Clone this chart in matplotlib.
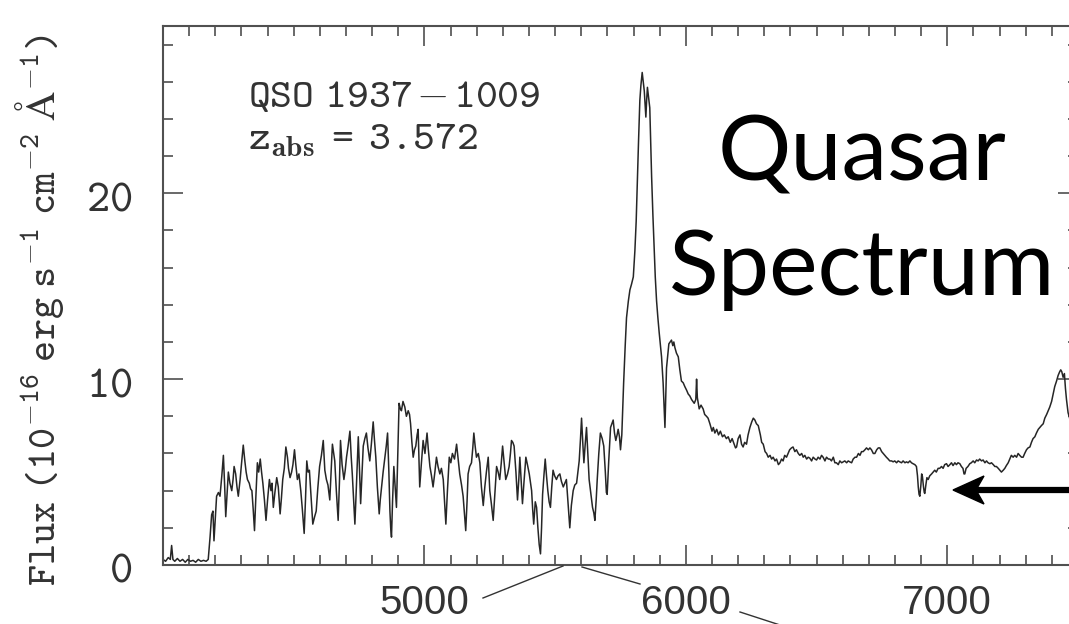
import matplotlib
matplotlib.use("Agg")
import matplotlib.pyplot as plt
from matplotlib.ticker import MultipleLocator
from matplotlib.lines import Line2D
from matplotlib.patches import Polygon

# spectrum: wavelength (Angstrom) and flux (1e-16 erg/s/cm2/A)
wave = [4000, 4010, 4020, 4028, 4033, 4038, 4045, 4055, 4065, 4075, 4085, 4095, 4105, 4115, 4125,
        4135, 4145, 4155, 4165, 4173, 4180, 4186, 4191, 4195, 4200, 4205, 4212, 4218, 4225, 4231,
        4236, 4240, 4245, 4250, 4256, 4263, 4268, 4272, 4278, 4283, 4288, 4295, 4300, 4307, 4313,
        4318, 4323, 4330, 4335, 4340, 4345, 4350, 4355, 4361, 4366, 4372, 4377, 4382, 4388, 4394,
        4400, 4407, 4413, 4417, 4422, 4428, 4435, 4441, 4448, 4453, 4458, 4464, 4470, 4476, 4480,
        4486, 4492, 4497, 4503, 4508, 4514, 4520, 4527, 4533, 4540, 4545, 4550, 4555, 4560, 4566,
        4573, 4580, 4586, 4592, 4599, 4606, 4613, 4619, 4625, 4631, 4638, 4643, 4648, 4653, 4657,
        4663, 4670, 4675, 4679, 4685, 4692, 4697, 4702, 4708, 4715, 4720, 4724, 4729, 4734, 4740,
        4747, 4752, 4756, 4761, 4766, 4772, 4778, 4784, 4791, 4797, 4804, 4809, 4814, 4820, 4827,
        4831, 4836, 4842, 4849, 4854, 4859, 4864, 4868, 4871, 4874, 4878, 4883, 4888, 4893, 4898,
        4903, 4908, 4912, 4918, 4925, 4931, 4938, 4943, 4947, 4952, 4957, 4962, 4967, 4972, 4976,
        4979, 4982, 4988, 4995, 5002, 5010, 5015, 5021, 5027, 5033, 5040, 5046, 5052, 5059, 5065,
        5072, 5077, 5082, 5088, 5095, 5101, 5107, 5115, 5123, 5129, 5135, 5142, 5148, 5153, 5158,
        5163, 5167, 5173, 5180, 5185, 5189, 5194, 5199, 5206, 5212, 5218, 5225, 5231, 5237, 5244,
        5250, 5256, 5263, 5270, 5276, 5282, 5288, 5294, 5299, 5305, 5311, 5318, 5324, 5329, 5333,
        5338, 5343, 5350, 5356, 5361, 5365, 5370, 5375, 5381, 5388, 5394, 5401, 5405, 5410, 5414,
        5418, 5424, 5429, 5434, 5439, 5444, 5448, 5452, 5457, 5462, 5467, 5472, 5477, 5482, 5487,
        5492, 5498, 5505, 5511, 5518, 5524, 5531, 5537, 5543, 5549, 5556, 5562, 5569, 5575, 5582,
        5587, 5592, 5597, 5601, 5606, 5610, 5615, 5620, 5625, 5630, 5636, 5643, 5648, 5652, 5657,
        5661, 5667, 5673, 5680, 5686, 5692, 5696, 5699, 5705, 5712, 5717, 5722, 5727, 5732, 5737,
        5741, 5746, 5750, 5755, 5758, 5762, 5768, 5773, 5780, 5786, 5792, 5799, 5805, 5810, 5814,
        5819, 5824, 5828, 5833, 5837, 5841, 5844, 5847, 5850, 5853, 5857, 5862, 5865, 5869, 5874,
        5879, 5883, 5888, 5893, 5898, 5903, 5907, 5913, 5917, 5920, 5923, 5926, 5931, 5935, 5940,
        5945, 5950, 5954, 5958, 5964, 5971, 5977, 5983, 5990, 5996, 6003, 6009, 6015, 6022, 6027,
        6032, 6038, 6041, 6044, 6051, 6058, 6066, 6072, 6079, 6085, 6092, 6100, 6105, 6111, 6118,
        6125, 6132, 6140, 6147, 6155, 6162, 6170, 6177, 6185, 6190, 6194, 6200, 6207, 6213, 6219,
        6225, 6232, 6238, 6245, 6252, 6258, 6264, 6270, 6277, 6285, 6290, 6296, 6303, 6309, 6315,
        6322, 6328, 6334, 6341, 6347, 6354, 6360, 6366, 6372, 6378, 6385, 6391, 6397, 6404, 6410,
        6417, 6423, 6430, 6436, 6443, 6449, 6455, 6462, 6468, 6474, 6481, 6487, 6494, 6500, 6506,
        6513, 6519, 6525, 6532, 6538, 6545, 6551, 6557, 6564, 6570, 6576, 6583, 6589, 6596, 6602,
        6608, 6615, 6621, 6627, 6634, 6640, 6647, 6653, 6660, 6666, 6672, 6678, 6685, 6691, 6698,
        6704, 6710, 6717, 6723, 6730, 6736, 6742, 6749, 6755, 6761, 6767, 6774, 6780, 6787, 6793,
        6799, 6806, 6812, 6818, 6825, 6831, 6838, 6844, 6850, 6857, 6863, 6869, 6876, 6882, 6886,
        6889, 6892, 6895, 6899, 6902, 6905, 6909, 6912, 6914, 6918, 6922, 6927, 6933, 6940, 6946,
        6952, 6958, 6965, 6971, 6978, 6984, 6990, 6997, 7003, 7010, 7016, 7022, 7029, 7035, 7041,
        7048, 7054, 7060, 7064, 7067, 7072, 7079, 7086, 7092, 7099, 7105, 7112, 7118, 7124, 7131,
        7137, 7144, 7150, 7156, 7163, 7169, 7176, 7182, 7188, 7195, 7201, 7207, 7214, 7220, 7226,
        7233, 7239, 7245, 7252, 7258, 7265, 7271, 7277, 7284, 7290, 7296, 7303, 7309, 7316, 7322,
        7328, 7335, 7341, 7348, 7354, 7360, 7367, 7373, 7380, 7386, 7392, 7399, 7405, 7411, 7418,
        7424, 7430, 7434, 7438, 7443, 7448, 7452, 7456, 7462, 7470, 7480, 7495]

flux = [0.3, 0.2, 0.4, 0.3, 1.05, 0.3, 0.2, 0.35, 0.2, 0.3, 0.15, 0.3, 0.2, 0.25, 0.15,
        0.3, 0.2, 0.25, 0.2, 0.3, 1.5, 2.7, 2.9, 1.3, 2.5, 3.7, 3.9, 3.7, 4.8, 5.9,
        4.2, 2.6, 3.8, 5.0, 4.4, 4.0, 4.6, 5.3, 4.9, 4.2, 3.7, 4.6, 5.4, 6.45, 5.6,
        5.0, 4.6, 4.4, 4.1, 4.0, 3.0, 1.85, 3.6, 5.5, 5.0, 5.7, 5.0, 4.4, 3.5, 2.4,
        3.5, 4.6, 4.0, 4.4, 3.1, 3.9, 4.7, 4.2, 2.75, 3.6, 4.6, 5.2, 6.35, 5.8, 5.2,
        4.7, 5.0, 5.4, 6.2, 5.4, 4.6, 4.9, 4.0, 3.0, 1.7, 3.5, 5.6, 5.0, 5.1, 3.8,
        2.2, 2.6, 2.9, 4.1, 5.3, 5.9, 6.7, 5.1, 4.6, 4.3, 3.5, 5.0, 6.5, 6.0, 5.6,
        4.0, 2.4, 4.5, 6.7, 5.4, 4.6, 5.1, 5.8, 6.4, 7.2, 5.8, 4.9, 3.5, 2.2, 4.3,
        6.9, 5.0, 3.3, 4.8, 6.4, 6.8, 7.1, 6.3, 5.6, 6.5, 7.7, 6.7, 5.8, 4.2, 2.75,
        3.5, 4.2, 5.0, 5.8, 6.4, 7.1, 5.0, 2.9, 2.0, 1.5, 3.4, 5.3, 4.2, 3.1, 6.0,
        8.7, 8.4, 8.3, 8.8, 8.5, 8.0, 8.3, 8.1, 7.6, 6.6, 5.8, 6.2, 6.4, 7.0, 7.3,
        5.8, 4.2, 5.4, 6.7, 6.0, 7.1, 6.2, 5.3, 4.8, 4.2, 5.0, 5.8, 5.3, 4.9, 5.2,
        4.6, 3.4, 2.2, 4.0, 5.8, 5.5, 6.0, 5.7, 6.5, 5.7, 4.9, 4.3, 3.7, 2.8, 1.85,
        3.4, 4.9, 5.3, 5.5, 6.3, 7.1, 6.4, 5.8, 6.0, 5.5, 4.2, 3.2, 4.2, 5.0, 5.8,
        4.0, 3.3, 2.4, 4.0, 5.3, 5.0, 4.6, 5.5, 6.4, 5.5, 4.6, 4.9, 5.3, 6.0, 6.7,
        6.6, 6.4, 5.0, 3.5, 4.6, 5.8, 4.5, 3.3, 4.5, 5.8, 5.4, 4.9, 4.5, 4.0, 3.0,
        2.2, 3.4, 3.1, 2.0, 1.1, 0.6, 2.0, 3.8, 4.8, 5.7, 4.8, 4.0, 3.4, 3.1, 4.2,
        5.1, 4.8, 4.6, 4.8, 4.9, 4.5, 4.2, 4.4, 4.6, 3.4, 2.0, 3.2, 4.0, 4.3, 4.4,
        5.0, 5.6, 6.8, 7.9, 6.5, 5.5, 6.5, 7.4, 6.0, 4.6, 3.9, 3.1, 2.8, 2.4, 3.5,
        4.6, 6.0, 7.1, 6.8, 6.4, 5.0, 3.9, 3.8, 5.6, 7.4, 7.6, 7.8, 7.1, 6.7, 7.0,
        7.3, 6.9, 6.2, 7.0, 8.2, 9.8, 11.8, 13.3, 14.2, 14.8, 15.1, 15.5, 16.9, 18.5, 20.5,
        22.8, 25.0, 25.8, 26.5, 26.0, 25.5, 24.8, 24.1, 25.0, 25.7, 25.2, 24.6, 23.0, 20.9, 18.8,
        16.9, 15.5, 14.2, 13.3, 12.5, 11.8, 11.2, 9.8, 8.5, 7.4, 9.0, 10.6, 11.3, 11.9, 12.0,
        12.1, 11.8, 12.0, 11.7, 11.4, 11.2, 10.5, 9.9, 9.8, 9.6, 9.4, 9.2, 9.1, 8.9, 8.8,
        8.7, 8.9, 10.0, 9.0, 8.4, 8.6, 8.4, 8.1, 8.0, 7.9, 7.6, 7.2, 7.4, 7.1, 7.3,
        7.0, 7.2, 6.9, 7.0, 6.8, 6.9, 6.6, 6.8, 6.5, 6.3, 6.35, 6.8, 7.0, 6.5, 6.35,
        6.6, 6.5, 7.0, 7.4, 7.7, 7.9, 7.8, 7.6, 7.5, 7.0, 6.6, 6.5, 6.1, 6.0, 5.8,
        5.9, 5.7, 5.8, 5.6, 5.7, 5.4, 5.5, 5.7, 5.6, 5.9, 5.8, 6.0, 6.2, 6.3, 6.35,
        6.1, 6.2, 6.0, 5.9, 6.0, 5.8, 5.9, 5.7, 5.8, 5.75, 5.6, 5.8, 5.7, 5.65, 5.8,
        5.7, 5.9, 5.8, 5.6, 5.8, 5.7, 5.7, 5.6, 5.8, 5.5, 5.5, 5.4, 5.6, 5.5, 5.55,
        5.6, 5.5, 5.6, 5.55, 5.5, 5.7, 5.8, 5.8, 6.0, 5.9, 6.1, 6.1, 6.2, 6.3, 6.2,
        6.3, 6.2, 6.0, 6.0, 6.2, 6.3, 6.3, 6.1, 6.0, 5.9, 5.8, 5.7, 5.6, 5.6, 5.55,
        5.6, 5.5, 5.6, 5.55, 5.5, 5.6, 5.5, 5.55, 5.5, 5.6, 5.5, 5.45, 5.4, 5.3, 4.8,
        4.2, 3.8, 3.7, 4.3, 4.9, 4.75, 4.2, 3.9, 3.85, 4.3, 4.7, 4.6, 4.8, 4.9, 5.0,
        5.1, 5.0, 5.2, 5.2, 5.3, 5.2, 5.4, 5.45, 5.3, 5.4, 5.5, 5.35, 5.5, 5.4, 5.5,
        5.45, 5.3, 5.2, 4.9, 4.9, 5.2, 5.3, 5.45, 5.5, 5.6, 5.5, 5.65, 5.6, 5.7, 5.6,
        5.65, 5.5, 5.6, 5.5, 5.45, 5.5, 5.4, 5.3, 5.3, 5.2, 5.1, 5.0, 5.1, 5.2, 5.35,
        5.5, 5.7, 5.9, 5.8, 5.9, 5.8, 6.0, 5.9, 5.8, 5.8, 6.0, 6.2, 6.3, 6.35, 6.6,
        6.8, 6.9, 7.1, 7.3, 7.4, 7.5, 7.6, 7.9, 8.1, 8.3, 8.5, 8.8, 9.2, 9.6, 9.9,
        10.2, 10.4, 10.5, 10.4, 10.1, 10.3, 9.5, 8.9, 8.2, 7.8, 7.5, 7.3]

xtick_vals = [5000, 6000, 7000]
xtick_labels = ["5000", "6000", "7000"]
ytick_vals = [0, 10, 20]
ytick_labels = [r"$\mathrm{0}$", r"$\mathrm{10}$", r"$\mathrm{20}$"]

# typewriter serif like the original plot (matplotlib's bundled Computer Modern fonts)
plt.rcParams['mathtext.fontset'] = 'custom'
plt.rcParams['mathtext.rm'] = 'cmtt10'
plt.rcParams['mathtext.it'] = 'cmtt10'
plt.rcParams['mathtext.tt'] = 'cmtt10'
plt.rcParams['mathtext.bf'] = 'cmb10'
plt.rcParams['mathtext.fallback'] = 'cm'

W, H = 1069, 624
fig = plt.figure(figsize=(W / 100, H / 100), dpi=100)

def fx(px):
    return px / W

def fy(py):
    return 1 - py / H

# axes box: left spine at x=163, bottom at y=565, right spine falls just outside the picture
ax = fig.add_axes([fx(163), fy(565), (1078 - 163) / W, (565 - 26) / H])
ax.plot(wave, flux, color='#262626', lw=1.1)
ax.set_xlim(4000, 7500)
ax.set_ylim(0, 29)

ax.xaxis.set_minor_locator(MultipleLocator(100))
ax.yaxis.set_minor_locator(MultipleLocator(2))
ax.tick_params(which='both', direction='in', top=True, right=True, color='#404040', width=1.1)
ax.tick_params(which='major', length=14.4)
ax.tick_params(which='minor', length=7.2)
ax.tick_params(axis='x', pad=14)
ax.tick_params(axis='y', pad=22)
ax.set_xticks(xtick_vals)
ax.set_xticklabels(xtick_labels, fontfamily='Liberation Sans', fontsize=29, color='#333333')
ax.set_yticks(ytick_vals)
ax.set_yticklabels(ytick_labels, fontsize=32, color='#333333')
for s in ax.spines.values():
    s.set_color('#505050')
    s.set_linewidth(1.5)

fig.text(fx(40), fy(310),
         r'$\mathrm{Flux\enspace(10^{-16}\enspace erg\enspace s^{-1}\enspace cm^{-2}\enspace \AA^{-1})}$',
         rotation=90, fontsize=29, ha='center', va='center', color='#333333')

fig.text(fx(248), fy(107), r'$\mathrm{QSO\enspace 1937-1009}$', fontsize=30, color='#333333',
         ha='left', va='baseline')
fig.text(fx(248), fy(150), r'$\mathrm{z_{\mathbf{abs}}\enspace=\enspace 3.572}$', fontsize=30,
         color='#333333', ha='left', va='baseline')

# slide annotations
fig.text(fx(862), fy(180), "Quasar", family='Lato', fontsize=66, ha='center', va='baseline',
         color='black')
fig.text(fx(862), fy(295), "Spectrum", family='Lato', fontsize=66, ha='center', va='baseline',
         color='black')

for (x0, y0), (x1, y1) in [((483, 598), (563, 566)), ((582, 567), (640, 584)),
                           ((740, 612), (780, 625))]:
    fig.add_artist(Line2D([fx(x0), fx(x1)], [fy(y0), fy(y1)], color='#333333', lw=1.0,
                          transform=fig.transFigure))

fig.add_artist(Line2D([fx(976), fx(1075)], [fy(490), fy(490)], color='black', lw=4.5,
                      transform=fig.transFigure, solid_capstyle='butt'))
fig.add_artist(Polygon([(fx(953), fy(490)), (fx(984), fy(476)), (fx(976), fy(490)),
                        (fx(984), fy(504))], closed=True, color='black',
                       transform=fig.transFigure))

fig.savefig("out.png", dpi=100)
